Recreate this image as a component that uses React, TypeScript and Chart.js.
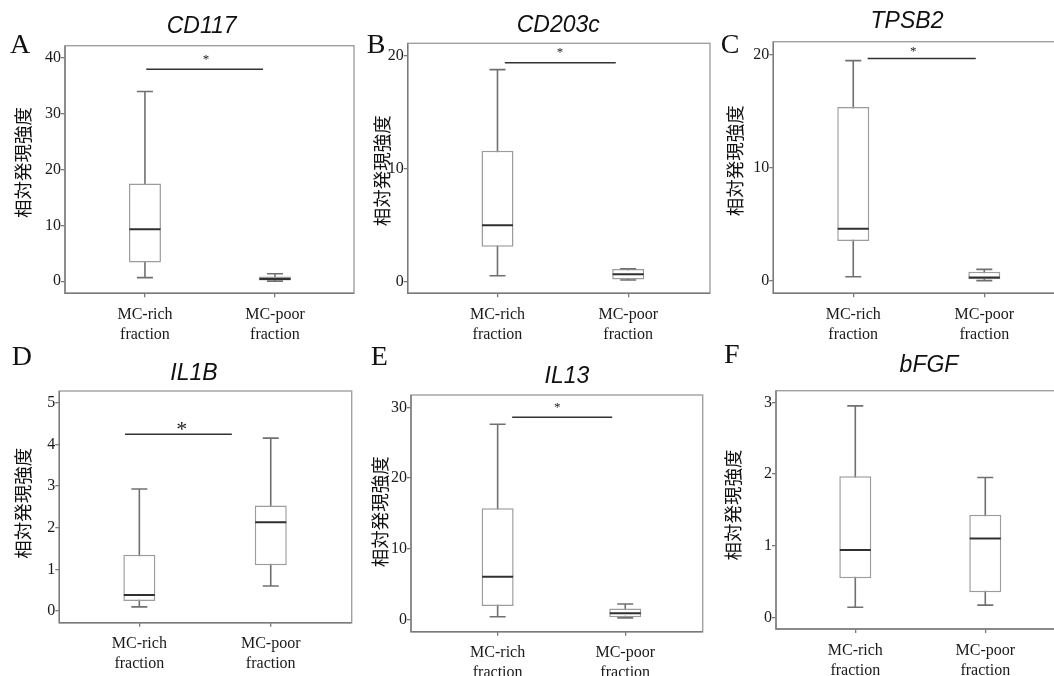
import React, { useEffect, useRef } from "react";
import { Chart, registerables } from "chart.js";

Chart.register(...registerables);

// ---------- data ----------
const categories: string[][] = [
  ["MC-rich", "fraction"],
  ["MC-poor", "fraction"],
];
const panelLetters = ["A", "B", "C", "D", "E", "F"];
const geneNames = ["CD117", "CD203c", "TPSB2", "IL1B", "IL13", "bFGF"];
const yAxisTitle = "相対発現強度";

// box stats: [min, q1, median, q3, max]
const cd117Rich = [0.66, 3.36, 9.34, 17.5, 34.0];
const cd117Poor = [0.02, 0.15, 0.4, 0.85, 1.35];
const cd203cRich = [0.53, 3.1, 5.0, 11.6, 18.8];
const cd203cPoor = [0.15, 0.2, 0.65, 1.13, 1.15];
const tpsb2Rich = [0.35, 3.52, 4.6, 15.4, 19.5];
const tpsb2Poor = [0.0, 0.12, 0.27, 0.8, 1.0];
const il1bRich = [0.1, 0.24, 0.385, 1.35, 2.93];
const il1bPoor = [0.6, 1.1, 2.13, 2.53, 4.15];
const il13Rich = [0.37, 1.88, 6.03, 15.7, 27.6];
const il13Poor = [0.2, 0.28, 0.85, 1.55, 2.17];
const bfgfRich = [0.14, 0.544, 0.94, 1.97, 2.95];
const bfgfPoor = [0.17, 0.35, 1.1, 1.43, 1.95];

const richStats = [cd117Rich, cd203cRich, tpsb2Rich, il1bRich, il13Rich, bfgfRich];
const poorStats = [cd117Poor, cd203cPoor, tpsb2Poor, il1bPoor, il13Poor, bfgfPoor];

// y tick labels
const cd117Ticks = [0, 10, 20, 30, 40];
const cd203cTicks = [0, 10, 20];
const tpsb2Ticks = [0, 10, 20];
const il1bTicks = [0, 1, 2, 3, 4, 5];
const il13Ticks = [0, 10, 20, 30];
const bfgfTicks = [0, 1, 2, 3];
const yTicks = [cd117Ticks, cd203cTicks, tpsb2Ticks, il1bTicks, il13Ticks, bfgfTicks];

// significance bars (y value, from / to in category units)
const sigY: (number | null)[] = [38.0, 19.4, 19.7, 4.24, 28.6, null];
const sigFrom = [0.01, 0.056, 0.11, -0.109, 0.114, 0];
const sigTo = [0.908, 0.905, 0.935, 0.704, 0.898, 0];
const sigMark = "*";

// ---------- layout (absolute page px) ----------
type Layout = {
  canvas: [number, number, number, number]; // x, y, w, h
  plot: [number, number, number, number]; // left, top, right, bottom
  xRange: [number, number];
  yRange: [number, number];
  letterPos: [number, number];
  titlePos: [number, number];
  yLabelPos: [number, number];
  star: [number, number, number]; // x, dy from line (baseline), font size
};

const layouts: Layout[] = [
  {
    canvas: [0, 0, 360, 340],
    plot: [65, 45.7, 354, 293.3],
    xRange: [-0.615, 1.608],
    yRange: [-2.155, 42.21],
    letterPos: [10, 53],
    titlePos: [201.7, 33.3],
    yLabelPos: [22.5, 162.5],
    star: [206, -5.7, 13],
  },
  {
    canvas: [360, 0, 352, 340],
    plot: [407.7, 43.3, 710, 293.3],
    xRange: [-0.687, 1.626],
    yRange: [-1.03, 21.13],
    letterPos: [366.7, 53],
    titlePos: [558.3, 31.7],
    yLabelPos: [381.7, 170.8],
    star: [560, -6.4, 13],
  },
  {
    canvas: [712, 0, 346, 340],
    plot: [773.3, 41.7, 1056, 293.3],
    xRange: [-0.61, 1.547],
    yRange: [-1.12, 21.18],
    letterPos: [720.7, 53.3],
    titlePos: [907, 28.3],
    yLabelPos: [735, 160.8],
    star: [913.3, -3.4, 13],
  },
  {
    canvas: [0, 338, 360, 338],
    plot: [59.3, 391, 351.7, 622.7],
    xRange: [-0.609, 1.616],
    yRange: [-0.28, 5.28],
    letterPos: [11.7, 365],
    titlePos: [194, 380],
    yLabelPos: [22.5, 503.3],
    star: [181.7, 2, 22],
  },
  {
    canvas: [360, 338, 352, 338],
    plot: [411, 395, 702.7, 631.7],
    xRange: [-0.679, 1.607],
    yRange: [-1.75, 31.74],
    letterPos: [370.7, 365],
    titlePos: [567, 382.7],
    yLabelPos: [380, 511.7],
    star: [557.3, -6, 13],
  },
  {
    canvas: [712, 338, 346, 338],
    plot: [776, 390.7, 1056, 629],
    xRange: [-0.61, 1.544],
    yRange: [-0.163, 3.162],
    letterPos: [724, 363],
    titlePos: [929, 371.7],
    yLabelPos: [733.3, 505],
    star: [0, 0, 13],
  },
];

const SERIF = '"Liberation Serif", "Times New Roman", serif';
const SANS = '"Liberation Sans", Arial, sans-serif';
const CJK = '"Noto Sans CJK JP", "Noto Sans CJK SC", sans-serif';

function PanelChart({ index }: { index: number }) {
  const ref = useRef<HTMLCanvasElement>(null);
  const L = layouts[index];
  const [cx, cy, cw, ch] = L.canvas;

  useEffect(() => {
    const rich = richStats[index];
    const poor = poorStats[index];
    const ticks = yTicks[index];
    const [pl, pt, pr, pb] = L.plot;

    const decor = {
      id: "panelDecor",
      afterDraw(chart: any) {
        const ctx = chart.ctx as CanvasRenderingContext2D;
        const ca = chart.chartArea;
        const xs = chart.scales.x;
        const ys = chart.scales.y;
        ctx.save();
        // plot frame
        ctx.strokeStyle = "#a0a0a0";
        ctx.lineWidth = 1.4;
        ctx.strokeRect(ca.left, ca.top, ca.right - ca.left, ca.bottom - ca.top);
        // darker left/bottom axis lines
        ctx.strokeStyle = "#7a7a7a";
        ctx.beginPath();
        ctx.moveTo(ca.left, ca.top);
        ctx.lineTo(ca.left, ca.bottom);
        ctx.lineTo(ca.right, ca.bottom);
        ctx.stroke();

        // panel letter
        ctx.fillStyle = "#111";
        ctx.font = `28px ${SERIF}`;
        ctx.textAlign = "left";
        ctx.textBaseline = "alphabetic";
        ctx.fillText(panelLetters[index], L.letterPos[0] - cx, L.letterPos[1] - cy);

        // gene title
        ctx.font = `italic 23px ${SANS}`;
        ctx.textAlign = "center";
        ctx.fillText(geneNames[index], L.titlePos[0] - cx, L.titlePos[1] - cy);

        // y axis title
        ctx.save();
        ctx.translate(L.yLabelPos[0] - cx, L.yLabelPos[1] - cy);
        ctx.rotate(-Math.PI / 2);
        ctx.font = `18.5px ${CJK}`;
        ctx.textAlign = "center";
        ctx.textBaseline = "middle";
        ctx.fillStyle = "#111";
        ctx.fillText(yAxisTitle, 0, 0);
        ctx.restore();

        // significance bar
        const sy = sigY[index];
        if (sy !== null) {
          const y = ys.getPixelForValue(sy);
          const x1 = xs.getPixelForValue(sigFrom[index]);
          const x2 = xs.getPixelForValue(sigTo[index]);
          ctx.strokeStyle = "#333";
          ctx.lineWidth = 1.5;
          ctx.beginPath();
          ctx.moveTo(x1, y);
          ctx.lineTo(x2, y);
          ctx.stroke();
          ctx.fillStyle = "#222";
          ctx.font = `${L.star[2]}px ${SERIF}`;
          ctx.textAlign = "center";
          ctx.textBaseline = "alphabetic";
          ctx.fillText(sigMark, L.star[0] - cx, y + L.star[1]);
        }
        ctx.restore();
      },
    };

    const chart = new Chart(ref.current as HTMLCanvasElement, {
      type: "bar",
      data: {
        datasets: [
          {
            type: "bar",
            label: "whisker",
            data: [
              { x: 0, y: [rich[0], rich[4]] },
              { x: 1, y: [poor[0], poor[4]] },
            ] as any,
            backgroundColor: "#707070",
            borderWidth: 0,
            barThickness: 1.6,
            grouped: false,
            inflateAmount: 0,
            order: 4,
          } as any,
          {
            type: "bar",
            label: "box",
            data: [
              { x: 0, y: [rich[1], rich[3]] },
              { x: 1, y: [poor[1], poor[3]] },
            ] as any,
            backgroundColor: "#ffffff",
            borderColor: "#9c9c9c",
            borderWidth: 1.5,
            borderSkipped: false,
            barThickness: 32,
            grouped: false,
            inflateAmount: 0,
            order: 3,
          } as any,
          {
            type: "line",
            label: "caps",
            data: [
              { x: 0, y: rich[0] },
              { x: 0, y: rich[4] },
              { x: 1, y: poor[0] },
              { x: 1, y: poor[4] },
            ] as any,
            showLine: false,
            pointStyle: "line",
            pointRadius: 8,
            pointHoverRadius: 8,
            pointBorderWidth: 1.6,
            pointBorderColor: "#707070",
            borderColor: "#707070",
            order: 2,
          } as any,
          {
            type: "line",
            label: "median",
            data: [
              { x: 0, y: rich[2] },
              { x: 1, y: poor[2] },
            ] as any,
            showLine: false,
            pointStyle: "line",
            pointRadius: 15.5,
            pointHoverRadius: 15.5,
            pointBorderWidth: 2,
            pointBorderColor: "#303030",
            borderColor: "#303030",
            order: 1,
          } as any,
        ],
      },
      options: {
        responsive: false,
        animation: false,
        events: [],
        layout: {
          autoPadding: false,
          padding: { left: 0, top: pt - cy, right: cw - (pr - cx), bottom: 0 },
        },
        plugins: {
          legend: { display: false },
          tooltip: { enabled: false },
          title: { display: false },
        },
        scales: {
          x: {
            type: "linear",
            min: L.xRange[0],
            max: L.xRange[1],
            offset: false,
            bounds: "data",
            afterBuildTicks: (s: any) => {
              s.ticks = [0, 1].map((v) => ({ value: v }));
            },
            afterFit: (s: any) => {
              s.height = ch - (pb - cy);
              s.paddingLeft = 0;
              s.paddingRight = 0;
              s.paddingTop = 0;
              s.paddingBottom = 0;
            },
            ticks: {
              callback: (v: any) => categories[Math.round(Number(v))] ?? "",
              font: { family: SERIF, size: 16, lineHeight: 1.25 },
              color: "#1a1a1a",
              padding: 7.5,
              maxRotation: 0,
              autoSkip: false,
            },
            grid: {
              display: true,
              drawOnChartArea: false,
              drawTicks: true,
              tickLength: 4,
              color: "#7a7a7a",
              lineWidth: 1.3,
              offset: false,
            },
            border: { display: false },
          } as any,
          y: {
            type: "linear",
            min: L.yRange[0],
            max: L.yRange[1],
            bounds: "data",
            afterBuildTicks: (s: any) => {
              s.ticks = ticks.map((v) => ({ value: v }));
            },
            afterFit: (s: any) => {
              s.width = pl - cx;
              s.paddingLeft = 0;
              s.paddingRight = 0;
              s.paddingTop = 0;
              s.paddingBottom = 0;
            },
            ticks: {
              callback: (v: any) => String(v),
              font: { family: SERIF, size: 16 },
              color: "#1a1a1a",
              padding: 0,
            },
            grid: {
              display: true,
              drawOnChartArea: false,
              drawTicks: true,
              tickLength: 4,
              color: "#7a7a7a",
              lineWidth: 1.3,
            },
            border: { display: false },
          } as any,
        },
      } as any,
      plugins: [decor as any],
    });
    return () => chart.destroy();
  }, []);

  return (
    <canvas
      ref={ref}
      width={cw}
      height={ch}
      style={{ position: "absolute", left: cx, top: cy, width: cw, height: ch }}
    />
  );
}

export default function App() {
  return (
    <div
      style={{
        position: "fixed",
        left: 0,
        top: 0,
        width: 1054,
        height: 676,
        overflow: "hidden",
        background: "#ffffff",
      }}
    >
      {layouts.map((_, i) => (
        <PanelChart key={i} index={i} />
      ))}
    </div>
  );
}
